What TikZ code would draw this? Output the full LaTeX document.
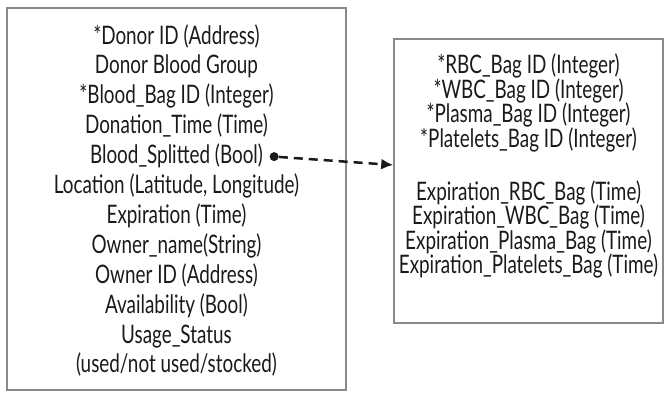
\documentclass[tikz,border=0pt]{standalone}
\usepackage{fontspec}
\newfontfamily\fieldfont[FakeStretch=0.74]{Lato}
\usetikzlibrary{arrows.meta}
\definecolor{framegray}{HTML}{8A8A8A}
\definecolor{inkgray}{HTML}{1A1A1A}
\begin{document}
\begin{tikzpicture}[x=1pt,y=1pt,
  entity/.style={draw=framegray, line width=1.5pt, inner sep=0pt},
  field/.style={anchor=base, inner sep=0pt, text=inkgray,
    font=\fieldfont\fontsize{25.5}{28}\selectfont},
  link/.style={draw=inkgray, line width=2.5pt, dash pattern=on 9pt off 6pt,
    -{Latex[length=12pt,width=11pt]}},
  joint/.style={circle, fill=inkgray, inner sep=0pt, minimum size=9pt}]
\useasboundingbox (0,0) rectangle (665,-392);

% donation record
\node[entity, minimum width=339pt, minimum height=382pt] (donor) at (176.5,-199) {};
\foreach \txt [count=\i] in {
  {*Donor ID (Address)},
  {Donor Blood Group},
  {*Blood\_Bag ID (Integer)},
  {Donation\_Time (Time)},
  {Blood\_Splitted (Bool)},
  {Location (Latitude, Longitude)},
  {Expiration (Time)},
  {Owner\_name(String)},
  {Owner ID (Address)},
  {Availability (Bool)},
  {Usage\_Status},
  {(used/not used/stocked)}}
  \node[field] (d\i) at (176.5,{-44-(\i-1)*29.9}) {\txt};

% split bags record
\node[entity, minimum width=269pt, minimum height=284pt] (split) at (528.5,-181) {};
\foreach \txt/\yy [count=\i] in {
  {*RBC\_Bag ID (Integer)}/73,
  {*WBC\_Bag ID (Integer)}/98,
  {*Plasma\_Bag ID (Integer)}/122.5,
  {*Platelets\_Bag ID (Integer)}/147,
  {Expiration\_RBC\_Bag (Time)}/200,
  {Expiration\_WBC\_Bag (Time)}/224.5,
  {Expiration\_Plasma\_Bag (Time)}/249,
  {Expiration\_Platelets\_Bag (Time)}/273.5}
  \node[field] (s\i) at (528.5,-\yy) {\txt};

% link between the records
\node[joint] (start) at ([xshift=11pt,yshift=7pt]d5.base east) {};
\coordinate (tip) at (split.west |- 0,-165);
\draw[link] (start) -- (tip);
\end{tikzpicture}
\end{document}
